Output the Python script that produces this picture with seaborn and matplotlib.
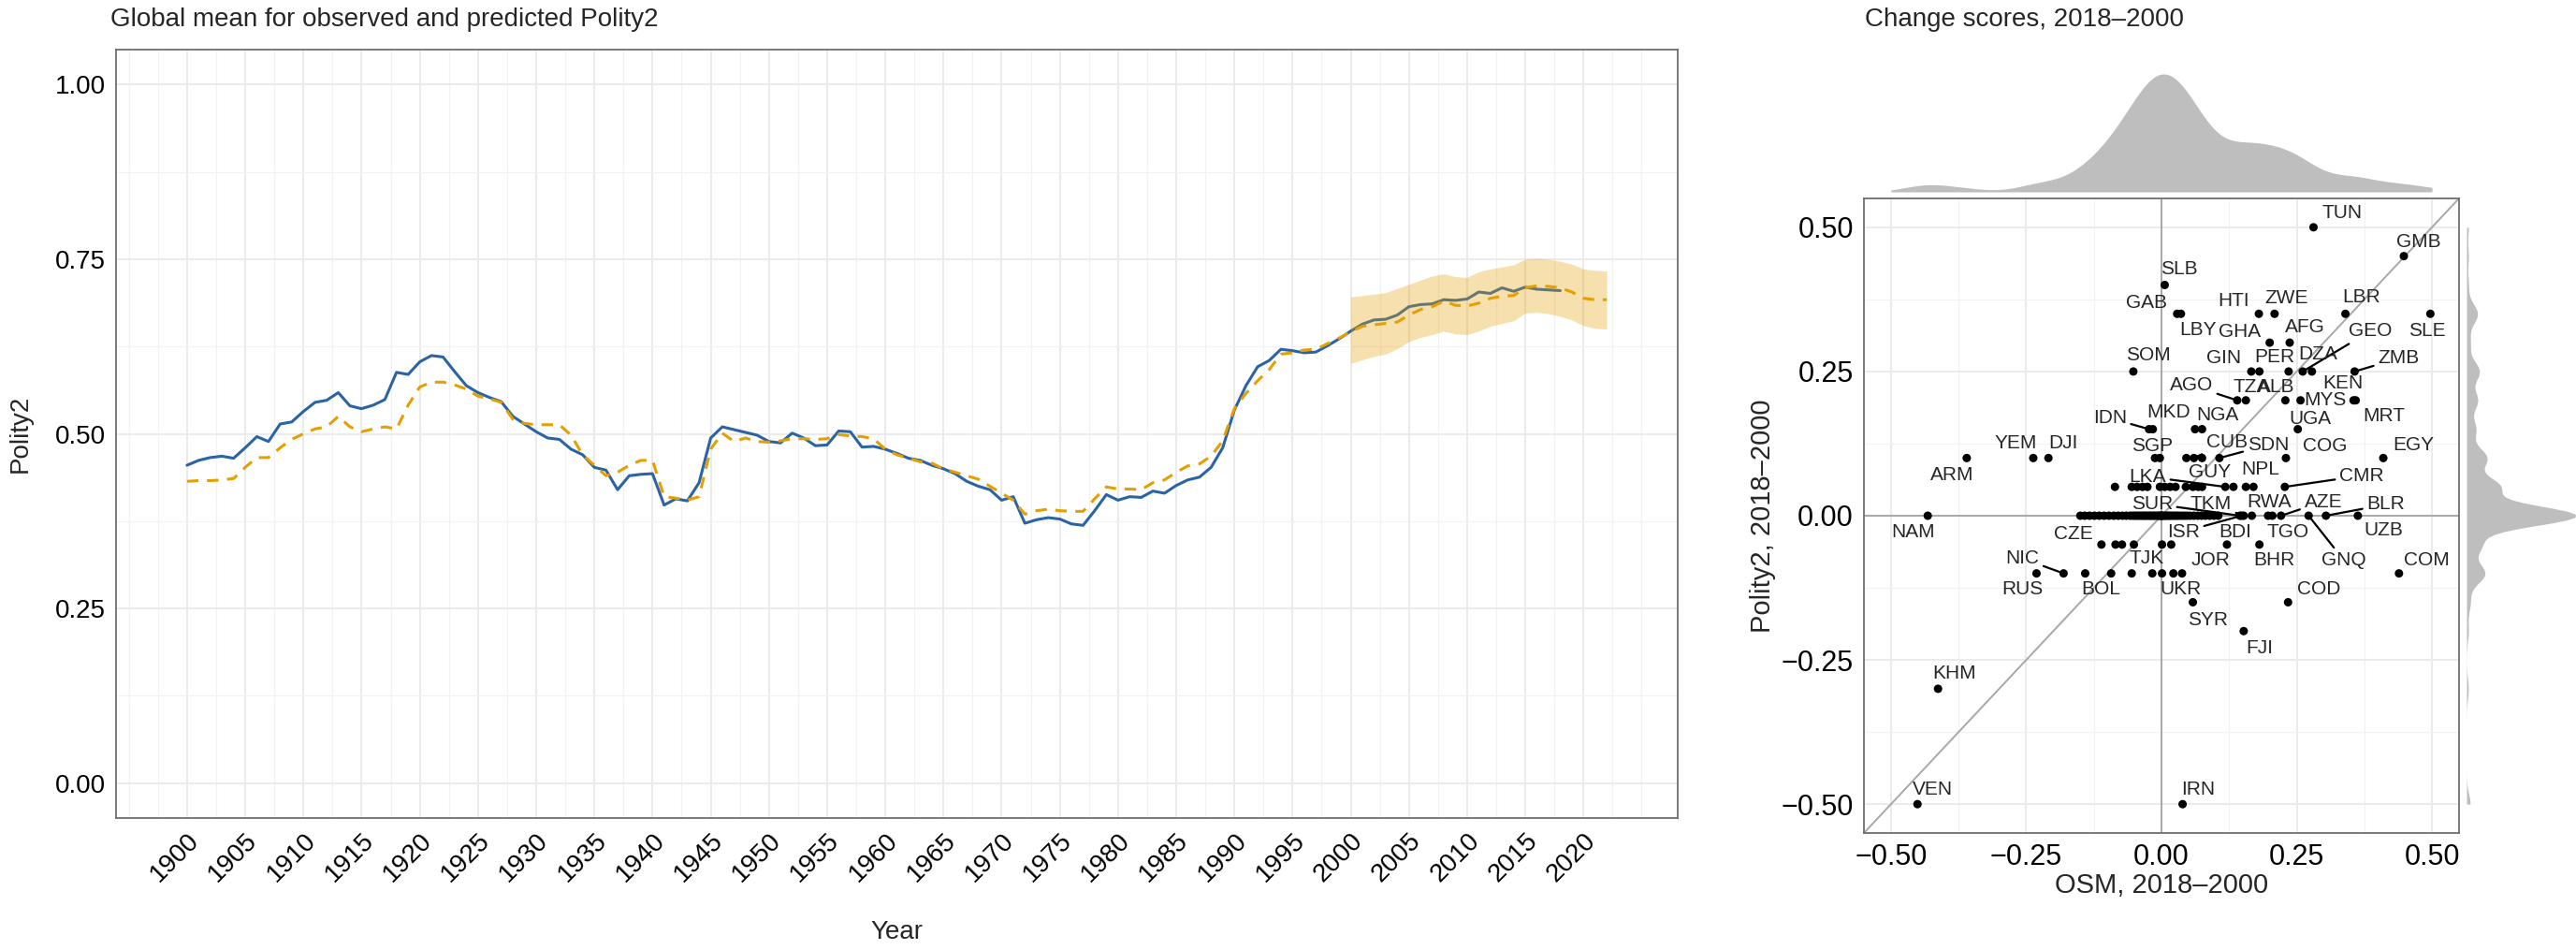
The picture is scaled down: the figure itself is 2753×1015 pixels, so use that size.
"""Global mean of observed vs predicted Polity2, plus 2018-2000 change-score scatter."""

import matplotlib

matplotlib.use("Agg")
import matplotlib.pyplot as plt
import numpy as np
import pandas as pd
import seaborn as sns

# ---- left panel: yearly global means ----
OBS_YEARS = list(range(1900, 2019))
OBS_POLITY2 = [
    0.455, 0.462, 0.466, 0.468, 0.465, 0.480, 0.496, 0.489, 0.514, 0.517,
    0.532, 0.545, 0.548, 0.559, 0.540, 0.536, 0.541, 0.549, 0.588, 0.585,
    0.603, 0.612, 0.610, 0.589, 0.569, 0.559, 0.552, 0.546, 0.525, 0.514,
    0.503, 0.494, 0.492, 0.478, 0.470, 0.452, 0.448, 0.420, 0.440, 0.442,
    0.443, 0.398, 0.407, 0.404, 0.430, 0.494, 0.510, 0.506, 0.502, 0.498,
    0.489, 0.487, 0.501, 0.494, 0.483, 0.484, 0.504, 0.503, 0.481, 0.482,
    0.478, 0.472, 0.465, 0.462, 0.455, 0.450, 0.443, 0.432, 0.425, 0.420,
    0.405, 0.410, 0.372, 0.377, 0.380, 0.378, 0.371, 0.369, 0.390, 0.413,
    0.405, 0.410, 0.409, 0.418, 0.415, 0.426, 0.434, 0.438, 0.452, 0.480,
    0.534, 0.569, 0.596, 0.605, 0.621, 0.619, 0.616, 0.617, 0.626, 0.636,
    0.647, 0.657, 0.663, 0.664, 0.670, 0.682, 0.685, 0.686, 0.692, 0.691,
    0.693, 0.703, 0.701, 0.709, 0.704, 0.710, 0.707, 0.706, 0.705,
]

PRED_YEARS = list(range(1900, 2023))
PRED_POLITY2 = [
    0.432, 0.433, 0.433, 0.434, 0.436, 0.452, 0.466, 0.466, 0.480, 0.492,
    0.500, 0.507, 0.510, 0.525, 0.510, 0.503, 0.507, 0.510, 0.507, 0.541,
    0.567, 0.574, 0.574, 0.570, 0.564, 0.554, 0.550, 0.545, 0.521, 0.515,
    0.513, 0.513, 0.513, 0.498, 0.470, 0.455, 0.440, 0.445, 0.455, 0.462,
    0.462, 0.410, 0.408, 0.405, 0.410, 0.478, 0.501, 0.489, 0.494, 0.489,
    0.488, 0.490, 0.493, 0.493, 0.492, 0.493, 0.499, 0.497, 0.496, 0.493,
    0.478, 0.470, 0.465, 0.460, 0.458, 0.450, 0.445, 0.440, 0.435, 0.425,
    0.415, 0.405, 0.385, 0.390, 0.392, 0.390, 0.389, 0.389, 0.407, 0.424,
    0.421, 0.421, 0.420, 0.430, 0.434, 0.445, 0.454, 0.457, 0.468, 0.490,
    0.536, 0.558, 0.576, 0.592, 0.614, 0.616, 0.620, 0.621, 0.629, 0.637,
    0.646, 0.654, 0.656, 0.658, 0.660, 0.670, 0.678, 0.682, 0.690, 0.684,
    0.683, 0.687, 0.694, 0.697, 0.698, 0.709, 0.712, 0.711, 0.709, 0.703,
    0.694, 0.692, 0.692,
]

BAND_YEARS = list(range(2000, 2023))
BAND_LOW = [
    0.601, 0.606, 0.611, 0.614, 0.622, 0.632, 0.638, 0.642, 0.647, 0.643,
    0.642, 0.647, 0.654, 0.658, 0.662, 0.673, 0.674, 0.672, 0.668, 0.663,
    0.655, 0.651, 0.650,
]
BAND_HIGH = [
    0.696, 0.698, 0.700, 0.702, 0.708, 0.714, 0.720, 0.726, 0.729, 0.725,
    0.724, 0.732, 0.736, 0.739, 0.742, 0.750, 0.751, 0.750, 0.747, 0.743,
    0.736, 0.734, 0.733,
]

# ---- right panel: labelled countries ----
COUNTRIES = [
    "TUN", "GMB", "SLB", "GAB", "LBY", "HTI", "ZWE", "LBR", "SLE", "GHA",
    "AFG", "SOM", "GIN", "PER", "GEO", "DZA", "ZMB", "AGO", "TZA", "ALB",
    "MYS", "KEN", "MRT", "IDN", "MKD", "NGA", "UGA", "ARM", "YEM", "DJI",
    "SGP", "CUB", "SDN", "COG", "EGY", "GUY", "LKA", "NPL", "CMR", "NAM",
    "SUR", "ISR", "TKM", "BDI", "RWA", "TGO", "AZE", "GNQ", "BLR", "UZB",
    "CZE", "TJK", "JOR", "BHR", "RUS", "NIC", "BOL", "UKR", "COM", "SYR",
    "COD", "FJI", "KHM", "VEN", "IRN",
]
COUNTRY_OSM = [
    0.281, 0.448, 0.006, 0.029, 0.036, 0.180, 0.209, 0.340, 0.497, 0.200,
    0.237, -0.052, 0.166, 0.235, 0.261, 0.278, 0.357, 0.140, 0.156, 0.229,
    0.257, 0.355, 0.359, -0.023, -0.016, 0.075, 0.252, -0.360, -0.237, -0.209,
    -0.012, 0.060, 0.107, 0.230, 0.410, 0.075, 0.118, 0.170, 0.228, -0.432,
    0.145, 0.148, 0.152, 0.167, 0.197, 0.205, 0.221, 0.272, 0.304, 0.363,
    -0.111, -0.051, 0.121, 0.181, -0.231, -0.181, -0.141, 0.022, 0.439, 0.058,
    0.234, 0.152, -0.413, -0.451, 0.039,
]
COUNTRY_POLITY2 = [
    0.50, 0.45, 0.40, 0.35, 0.35, 0.35, 0.35, 0.35, 0.35, 0.30,
    0.30, 0.25, 0.25, 0.25, 0.25, 0.25, 0.25, 0.20, 0.20, 0.20,
    0.20, 0.20, 0.20, 0.15, 0.15, 0.15, 0.15, 0.10, 0.10, 0.10,
    0.10, 0.10, 0.10, 0.10, 0.10, 0.05, 0.05, 0.05, 0.05, 0.00,
    0.00, 0.00, 0.00, 0.00, 0.00, 0.00, 0.00, 0.00, 0.00, 0.00,
    -0.05, -0.05, -0.05, -0.05, -0.10, -0.10, -0.10, -0.10, -0.10, -0.15,
    -0.15, -0.20, -0.30, -0.50, -0.50,
]

# unlabelled countries, one list per Polity2 change row
ROW_025_OSM = [0.181]
ROW_015_OSM = [0.062]
ROW_010_OSM = [-0.003, 0.046, 0.075]
ROW_005_OSM = [-0.086, -0.055, -0.045, -0.035, -0.026, -0.003, 0.006, 0.016,
               0.026, 0.045, 0.058, 0.068, 0.133, 0.156]
ROW_000_OSM = [
    -0.150, -0.142, -0.133, -0.124, -0.115, -0.106, -0.097, -0.088, -0.080,
    -0.072, -0.065, -0.058, -0.053, -0.049, -0.045, -0.041, -0.037, -0.033,
    -0.030, -0.026, -0.022, -0.019, -0.015, -0.012, -0.008, -0.005, -0.002,
    0.000, 0.000, 0.003, 0.006, 0.009, 0.013, 0.016, 0.020, 0.024, 0.028,
    0.032, 0.037, 0.042, 0.047, 0.053, 0.060, 0.067, 0.074, 0.081, 0.089,
    0.097, 0.105,
]
ROW_M005_OSM = [-0.085, -0.073, 0.001, 0.018]
ROW_M010_OSM = [-0.093, -0.055, -0.017, 0.001, 0.038]

# label placement (pixel offsets from the point, y up); True = leader segment
LABEL_OFFSETS = {
    "TUN": (31, 15, False), "GMB": (16, 15, False), "SLB": (15, 17, False),
    "GAB": (-33, 12, False), "LBY": (18, -17, False), "HTI": (-27, 14, False),
    "ZWE": (13, 17, False), "LBR": (17, 18, False), "SLE": (-3, -18, False),
    "GHA": (-32, 12, False), "AFG": (16, 17, False), "SOM": (16, 17, False),
    "GIN": (-29, 14, False), "PER": (-15, 15, False), "GEO": (72, 43, True),
    "DZA": (6, 18, False), "ZMB": (47, 14, True), "AGO": (-49, 16, True),
    "TZA": (6, 14, False), "ALB": (-10, 14, False), "MYS": (26, 0, False),
    "KEN": (-11, 18, False), "MRT": (30, -17, False), "IDN": (-42, 12, True),
    "MKD": (17, 18, False), "NGA": (17, 15, False), "UGA": (13, 11, False),
    "ARM": (-16, -18, False), "YEM": (-19, 16, False), "DJI": (16, 16, False),
    "SGP": (-3, 13, False), "CUB": (35, 17, True), "SDN": (52, 14, True),
    "COG": (42, 13, False), "EGY": (32, 14, False), "GUY": (8, 16, False),
    "LKA": (-83, 11, True), "NPL": (7, 19, False), "CMR": (82, 12, True),
    "NAM": (-16, -18, False), "SUR": (-94, 13, True), "ISR": (-62, -17, True),
    "TKM": (-35, 13, True), "BDI": (-18, -18, False), "RWA": (1, 15, False),
    "TGO": (17, -18, False), "AZE": (45, 15, True), "GNQ": (38, -48, True),
    "BLR": (64, 12, True), "UZB": (27, -15, False), "CZE": (-30, 11, False),
    "TJK": (14, -15, False), "JOR": (-17, -17, False), "BHR": (16, -17, False),
    "RUS": (-15, -17, False), "NIC": (-44, 16, True), "BOL": (17, -17, False),
    "UKR": (8, -17, False), "COM": (30, 14, False), "SYR": (16, -19, False),
    "COD": (33, 14, False), "FJI": (17, -18, False), "KHM": (17, 16, False),
    "VEN": (16, 16, False), "IRN": (17, 16, False),
}

BLUE = "#2a64a6"
ORANGE = "#e69f00"
GRID = "#ebebeb"
DENSITY = "#bebebe"
W, H = 2753, 1015


def box(x0, y0, x1, y1):
    """Pixel box (top-left origin) to figure fraction rect."""
    return [x0 / W, 1 - y1 / H, (x1 - x0) / W, (y1 - y0) / H]


def style_panel(ax, labelsize):
    ax.set_facecolor("white")
    ax.set_axisbelow(True)
    ax.grid(which="major", color=GRID, lw=1.5)
    ax.grid(which="minor", color="#f2f2f2", lw=0.9)
    ax.tick_params(which="major", length=5, width=1.1, color="#333333",
                   labelsize=labelsize, pad=3, labelcolor="black")
    ax.tick_params(which="minor", length=0)
    for sp in ax.spines.values():
        sp.set_color("#6e6e6e")
        sp.set_linewidth(1.3)
        sp.set_visible(True)
    ax.set_xlabel("")
    ax.set_ylabel("")


sns.set_style("white")
plt.rcParams["font.family"] = ["Liberation Sans", "DejaVu Sans"]

fig = plt.figure(figsize=(W / 100, H / 100), dpi=100)

# ---------------- left: time series ----------------
obs = pd.DataFrame({"year": OBS_YEARS, "polity2": OBS_POLITY2})
pred = pd.DataFrame({"year": PRED_YEARS, "polity2": PRED_POLITY2})

ax = fig.add_axes(box(124, 53, 1793, 874))
sns.lineplot(data=obs, x="year", y="polity2", ax=ax, color=BLUE, lw=2.2, zorder=3)
sns.lineplot(data=pred, x="year", y="polity2", ax=ax, color=ORANGE, lw=2.2,
             linestyle=(0, (4, 3)), zorder=3)
ax.fill_between(BAND_YEARS, BAND_LOW, BAND_HIGH, color=ORANGE, alpha=0.32,
                lw=0, zorder=4)
ax.set_xlim(1900 - 6.1, 2022 + 6.1)
ax.set_ylim(-0.05, 1.05)
ax.set_xticks(range(1900, 2021, 5))
ax.set_xticks(np.arange(1895, 2026, 2.5), minor=True)
ax.set_yticks([0, 0.25, 0.5, 0.75, 1.0])
ax.set_yticks(np.arange(0.125, 1.0, 0.25), minor=True)
style_panel(ax, 20)
ax.set_yticklabels([f"{v:.2f}" for v in [0, 0.25, 0.5, 0.75, 1.0]])
ax.set_xticklabels([str(y) for y in range(1900, 2021, 5)], rotation=45,
                   ha="right", rotation_mode="anchor")

fig.text(118 / W, 1 - 28 / H, "Global mean for observed and predicted Polity2",
         fontsize=20, ha="left", va="baseline")
fig.text(22 / W, 1 - 463 / H, "Polity2", fontsize=20, rotation=90,
         ha="center", va="center")
fig.text(958 / W, 1 - 996 / H, "Year", fontsize=20, ha="center", va="center")

# ---------------- right: change-score scatter ----------------
labelled = pd.DataFrame({"osm": COUNTRY_OSM, "polity2": COUNTRY_POLITY2,
                         "country": COUNTRIES})
rows = [(0.25, ROW_025_OSM), (0.15, ROW_015_OSM), (0.10, ROW_010_OSM),
        (0.05, ROW_005_OSM), (0.0, ROW_000_OSM), (-0.05, ROW_M005_OSM),
        (-0.10, ROW_M010_OSM)]
others = pd.DataFrame({
    "osm": [x for _, xs in rows for x in xs],
    "polity2": [y for y, xs in rows for _ in xs],
    "country": "",
})
scores = pd.concat([labelled, others], ignore_index=True)

sc = fig.add_axes(box(1992, 212, 2628, 890))
sc.axline((0, 0), slope=1, color="#a8a8a8", lw=1.4, zorder=2)
sc.axhline(0, color="#a8a8a8", lw=1.4, zorder=2)
sc.axvline(0, color="#a8a8a8", lw=1.4, zorder=2)
sns.scatterplot(data=scores, x="osm", y="polity2", ax=sc, color="black", s=42,
                edgecolor="none", zorder=3)
sc.set_xlim(-0.55, 0.55)
sc.set_ylim(-0.55, 0.55)
ticks = [-0.5, -0.25, 0, 0.25, 0.5]
sc.set_xticks(ticks)
sc.set_yticks(ticks)
sc.set_xticks([-0.375, -0.125, 0.125, 0.375], minor=True)
sc.set_yticks([-0.375, -0.125, 0.125, 0.375], minor=True)
style_panel(sc, 22)
tick_text = [f"{t:.2f}".replace("-", "\u2212") for t in ticks]
sc.set_xticklabels(tick_text)
sc.set_yticklabels(tick_text)

for name, x, y in zip(COUNTRIES, COUNTRY_OSM, COUNTRY_POLITY2):
    dx, dy, seg = LABEL_OFFSETS[name]
    arrow = dict(arrowstyle="-", color="black", lw=1.6, shrinkA=1, shrinkB=3) if seg else None
    sc.annotate(name, xy=(x, y), xytext=(dx, dy), textcoords="offset pixels",
                ha="center", va="center", fontsize=15, arrowprops=arrow, zorder=4)

fig.text(1993 / W, 1 - 28 / H, "Change scores, 2018\u20132000", fontsize=20,
         ha="left", va="baseline")
fig.text(1884 / W, 1 - 551 / H, "Polity2, 2018\u20132000", fontsize=21,
         rotation=90, ha="center", va="center")
fig.text(2310 / W, 1 - 946 / H, "OSM, 2018\u20132000", fontsize=21,
         ha="center", va="center")

# marginal densities
top = fig.add_axes(box(1992, 60, 2628, 205))
sns.kdeplot(x=scores["osm"], ax=top, fill=True, color=DENSITY, alpha=1,
            linewidth=0, bw_method=0.25, clip=(-0.5, 0.5))
peak = top.collections[0].get_paths()[0].vertices[:, 1].max()
top.set_xlim(-0.55, 0.55)
top.set_ylim(0, peak * (205 - 60) / (205 - 79))
top.axis("off")

side = fig.add_axes(box(2636, 212, 2753, 890))
sns.kdeplot(y=scores["polity2"], ax=side, fill=True, color=DENSITY, alpha=1,
            linewidth=0, bw_method=0.12, clip=(-0.5, 0.5))
peak = side.collections[0].get_paths()[0].vertices[:, 0].max()
side.set_ylim(-0.55, 0.55)
side.set_xlim(0, peak * 1.005)
side.axis("off")

fig.savefig("out.png", dpi=100)
